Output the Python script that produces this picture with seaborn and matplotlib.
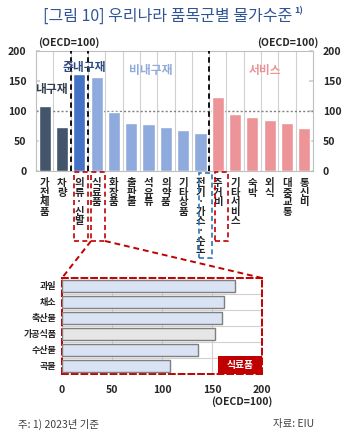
import matplotlib
matplotlib.use("Agg")
import matplotlib.pyplot as plt
from matplotlib.patches import Rectangle
from matplotlib.lines import Line2D
import seaborn as sns
import pandas as pd

# ---- data -------------------------------------------------------------
items = ["가전제품", "차량", "의류·신발", "식료품", "화장품", "출판물", "석유류",
         "의약품", "기타상품", "전기·가스·수도", "주거비", "기타서비스", "숙박",
         "외식", "대중교통", "통신비"]
groups = ["내구재", "내구재", "준내구재", "비내구재", "비내구재", "비내구재", "비내구재",
          "비내구재", "비내구재", "비내구재", "서비스", "서비스", "서비스", "서비스",
          "서비스", "서비스"]
levels = [108, 73, 161, 157, 99, 80, 78, 73, 68, 64, 123, 95, 90, 85, 80, 71]

food_items = ["과일", "채소", "축산물", "가공식품", "수산물", "곡물"]
food_kind = ["신선", "신선", "신선", "가공", "신선", "신선"]
food_levels = [173, 162, 160, 153, 136, 108]

group_colors = {"내구재": "#44546A", "준내구재": "#4472C4",
                "비내구재": "#8FAADC", "서비스": "#EC9497"}
label_colors = {"내구재": "#333F50", "준내구재": "#2F4A80",
                "비내구재": "#8FAADC", "서비스": "#EC9497"}

sns.set_theme(style="white")
plt.rcParams["font.family"] = ["Noto Sans CJK KR", "DejaVu Sans"]

W, H = 350, 438
fig = plt.figure(figsize=(W / 100, H / 100), dpi=100)


def fx(px):
    return px / W


def fy(py):
    return 1 - py / H


TXT = "#262626"
GRID = "#D0D0D0"
RED = "#C00000"

# ---- title ------------------------------------------------------------
title = fig.text(fx(168), fy(16), "[그림 10] 우리나라 품목군별 물가수준",
                 ha="center", va="center", fontsize=11.5, color="#2F5597")
fig.canvas.draw()
bb = title.get_window_extent()
fig.text(bb.x1 / W + 0.004, fy(11), "1)", ha="left", va="center",
         fontsize=6.5, color="#2F5597", fontweight="bold")

# ---- top chart: price level by item -----------------------------------
ax = fig.add_axes([fx(36), fy(171), fx(313) - fx(36), fy(51) - fy(171)])
df = pd.DataFrame({"item": items, "group": groups, "level": levels})
sns.barplot(data=df, x="item", y="level", hue="group", palette=group_colors,
            dodge=False, width=0.7, saturation=1, legend=False, ax=ax, zorder=3)
ax.set_xlim(-0.5, len(items) - 0.5)
ax.set_ylim(0, 200)
ax.set_yticks([0, 50, 100, 150, 200])
ax.set_xlabel("")
ax.set_ylabel("")

vertical = [("\n".join(list(s))) for s in items]
ax.set_xticks(range(len(items)))
ax.set_xticklabels(vertical, fontsize=7.5, fontweight="bold", color=TXT,
                   va="top", linespacing=0.95)
ax.tick_params(axis="x", length=0, pad=5)
ax.tick_params(axis="y", left=True, right=True, labelleft=True, labelright=True,
               direction="in", length=3, color=GRID, labelsize=7.5, pad=7,
               labelcolor=TXT)
for lab in ax.get_yticklabels():
    lab.set_fontweight("bold")

ax.set_xticks([i + 0.5 for i in range(len(items) - 1)], minor=True)
ax.tick_params(axis="x", which="minor", length=0)
ax.grid(axis="x", which="minor", color=GRID, lw=0.8, zorder=0)
ax.grid(axis="x", which="major", visible=False)
ax.grid(axis="y", visible=False)
for s in ax.spines.values():
    s.set_color("#BFBFBF")
    s.set_linewidth(0.8)

ax.axhline(100, color="#808080", ls=(0, (1.5, 1.5)), lw=1, zorder=2)
for xb in [1.5, 2.5, 9.5]:
    ax.axvline(xb, color="black", ls=(0, (3, 2)), lw=1.3, zorder=4)

ax.text(0.37, 135, "내구재", ha="center", va="center", fontsize=8.5,
        fontweight="bold", color=label_colors["내구재"], zorder=5)
ax.text(2.3, 173, "준내구재", ha="center", va="center", fontsize=8.5,
        fontweight="bold", color=label_colors["준내구재"], zorder=5)
ax.text(6.1, 168, "비내구재", ha="center", va="center", fontsize=8.5,
        fontweight="bold", color=label_colors["비내구재"], zorder=5)
ax.text(12.7, 168, "서비스", ha="center", va="center", fontsize=8.5,
        fontweight="bold", color=label_colors["서비스"], zorder=5)

fig.text(fx(38), fy(43), "(OECD=100)", ha="left", va="center", fontsize=7.5,
         fontweight="bold", color=TXT)
fig.text(fx(318), fy(43), "(OECD=100)", ha="right", va="center", fontsize=7.5,
         fontweight="bold", color=TXT)

# ---- dashed highlight boxes around item labels -------------------------
def fig_box(x0, y0, x1, y1, color):
    fig.add_artist(Rectangle((fx(x0), fy(y1)), fx(x1) - fx(x0), fy(y0) - fy(y1),
                             transform=fig.transFigure, fill=False, ec=color,
                             ls=(0, (3, 2)), lw=1.2))


fig_box(73.5, 172, 87.5, 241, RED)
fig_box(91, 172, 105, 241, RED)
fig_box(199.5, 172.5, 211.5, 258, "#2E75B6")
fig_box(215, 172, 228.5, 241, RED)

# connectors from the food label down to the breakdown chart
for (x0, y0), (x1, y1) in [((91, 241), (62, 278)), ((105, 241), (262, 278))]:
    fig.add_artist(Line2D([fx(x0), fx(x1)], [fy(y0), fy(y1)],
                          transform=fig.transFigure, color=RED,
                          ls=(0, (3, 2)), lw=1.4))

# ---- bottom chart: food breakdown -------------------------------------
bx = fig.add_axes([fx(62), fy(374), fx(262) - fx(62), fy(278) - fy(374)])
fdf = pd.DataFrame({"item": food_items, "kind": food_kind, "level": food_levels})
sns.barplot(data=fdf, x="level", y="item", hue="kind", orient="h",
            palette={"신선": "#DAE3F3", "가공": "#E7E6E6"}, dodge=False,
            width=0.75, saturation=1, legend=False, edgecolor="#7F7F7F",
            linewidth=1.0, ax=bx, zorder=3)
bx.set_xlim(0, 200)
bx.set_ylim(len(food_items) - 0.5, -0.5)
bx.set_xticks([0, 50, 100, 150, 200])
bx.set_xlabel("")
bx.set_ylabel("")
bx.set_yticks([i + 0.5 for i in range(len(food_items) - 1)], minor=True)
bx.grid(axis="y", which="minor", color=GRID, lw=0.8, zorder=0)
bx.grid(axis="y", which="major", visible=False)
bx.grid(axis="x", which="major", color=GRID, lw=0.8, zorder=0)
bx.tick_params(axis="both", which="both", length=0)
bx.tick_params(axis="y", labelsize=6.5, pad=4, labelcolor=TXT)
bx.tick_params(axis="x", labelsize=7.5, pad=8, labelcolor=TXT)
for lab in bx.get_xticklabels() + bx.get_yticklabels():
    lab.set_fontweight("bold")
for s in bx.spines.values():
    s.set_color(RED)
    s.set_linestyle((0, (3, 2)))
    s.set_linewidth(1.4)

bx.add_patch(Rectangle((156, 5.5), 44, -1.12, fc=RED, ec="none", zorder=4))
bx.text(178, 4.94, "식료품", ha="center", va="center", fontsize=7,
        fontweight="bold", color="white", zorder=5)

fig.text(fx(272), fy(402), "(OECD=100)", ha="right", va="center", fontsize=7.5,
         fontweight="bold", color=TXT)

# ---- footnotes --------------------------------------------------------
fig.text(fx(18), fy(424), "주: 1) 2023년 기준", ha="left", va="center",
         fontsize=7.5, color="#404040")
fig.text(fx(314), fy(424), "자료: EIU", ha="right", va="center",
         fontsize=7.5, color="#404040")

fig.savefig("out.png", dpi=100)
